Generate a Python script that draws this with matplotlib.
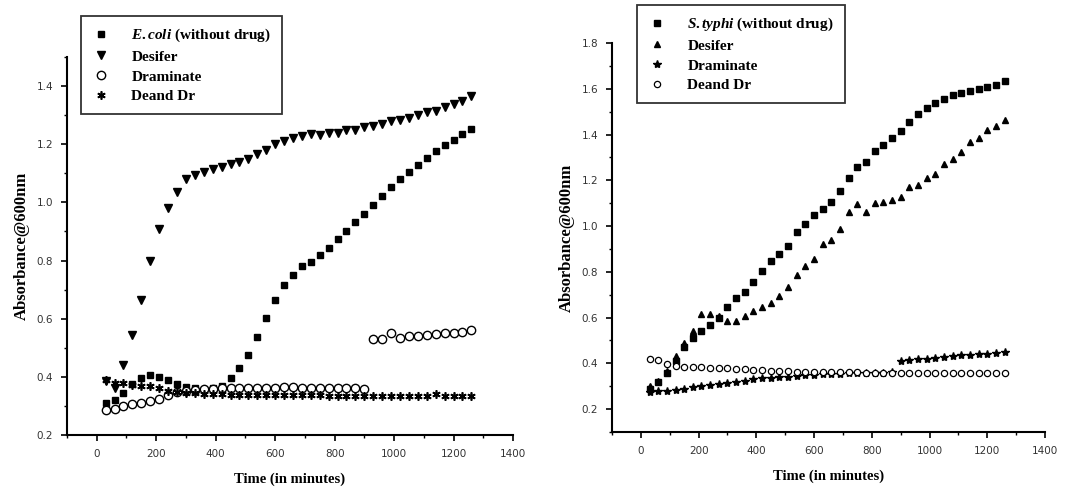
import matplotlib
matplotlib.use("Agg")
import matplotlib.pyplot as plt
from matplotlib.ticker import MultipleLocator

plt.rcParams['font.family'] = ['Liberation Serif', 'DejaVu Serif']
plt.rcParams['mathtext.fontset'] = 'custom'
plt.rcParams['mathtext.it'] = 'Liberation Serif:bold:italic'
plt.rcParams['mathtext.rm'] = 'Liberation Serif:bold'

# Time points (minutes)
time = [30, 60, 90, 120, 150, 180, 210, 240, 270, 300, 330, 360, 390, 420,
        450, 480, 510, 540, 570, 600, 630, 660, 690, 720, 750, 780, 810, 840,
        870, 900, 930, 960, 990, 1020, 1050, 1080, 1110, 1140, 1170, 1200, 1230, 1260]

# Left panel: E.coli
ecoli = [0.31, 0.32, 0.345, 0.375, 0.395, 0.405, 0.40, 0.39, 0.377, 0.366, 0.36, 0.355,
         0.36, 0.37, 0.395, 0.43, 0.476, 0.537, 0.604, 0.665, 0.715, 0.75, 0.78, 0.796,
         0.82, 0.843, 0.875, 0.902, 0.932, 0.961, 0.991, 1.022, 1.053, 1.079, 1.105,
         1.128, 1.154, 1.177, 1.196, 1.214, 1.236, 1.253]
ecoli_desifer = [0.385, 0.36, 0.44, 0.545, 0.665, 0.80, 0.91, 0.98, 1.036, 1.08, 1.093,
                 1.105, 1.116, 1.122, 1.131, 1.139, 1.15, 1.167, 1.18, 1.20, 1.21, 1.22,
                 1.23, 1.235, 1.233, 1.238, 1.24, 1.25, 1.25, 1.26, 1.262, 1.27, 1.28,
                 1.285, 1.29, 1.30, 1.31, 1.315, 1.327, 1.338, 1.35, 1.365]
ecoli_draminate = [0.285, 0.29, 0.30, 0.305, 0.31, 0.318, 0.325, 0.338, 0.348, 0.352,
                   0.355, 0.357, 0.358, 0.36, 0.36, 0.362, 0.362, 0.362, 0.362, 0.363,
                   0.364, 0.364, 0.363, 0.362, 0.362, 0.362, 0.362, 0.362, 0.362, 0.358,
                   0.53, 0.53, 0.55, 0.535, 0.54, 0.542, 0.545, 0.546, 0.55, 0.552, 0.555, 0.56]
ecoli_deand = [0.39, 0.38, 0.378, 0.372, 0.37, 0.368, 0.36, 0.352, 0.347, 0.345, 0.344,
               0.342, 0.34, 0.34, 0.338, 0.338, 0.338, 0.337, 0.337, 0.337, 0.337, 0.336,
               0.336, 0.336, 0.336, 0.335, 0.335, 0.335, 0.335, 0.335, 0.335, 0.334,
               0.334, 0.334, 0.334, 0.334, 0.334, 0.34, 0.334, 0.334, 0.334, 0.334]

# Right panel: S.typhi
styphi = [0.29, 0.32, 0.36, 0.41, 0.473, 0.51, 0.54, 0.569, 0.60, 0.646, 0.687, 0.714,
          0.754, 0.803, 0.847, 0.88, 0.912, 0.975, 1.01, 1.047, 1.076, 1.105, 1.153,
          1.212, 1.256, 1.28, 1.329, 1.353, 1.383, 1.416, 1.456, 1.49, 1.514, 1.536,
          1.554, 1.573, 1.583, 1.592, 1.598, 1.607, 1.617, 1.636]
styphi_desifer = [0.30, 0.325, 0.365, 0.43, 0.488, 0.54, 0.617, 0.617, 0.606, 0.587,
                  0.587, 0.606, 0.628, 0.646, 0.665, 0.695, 0.735, 0.785, 0.827, 0.856,
                  0.922, 0.94, 0.988, 1.061, 1.095, 1.061, 1.10, 1.105, 1.115, 1.127,
                  1.171, 1.178, 1.212, 1.226, 1.27, 1.291, 1.324, 1.368, 1.387, 1.419,
                  1.437, 1.463]
styphi_draminate = [0.275, 0.278, 0.28, 0.285, 0.29, 0.295, 0.30, 0.305, 0.31, 0.315,
                    0.32, 0.325, 0.33, 0.335, 0.338, 0.34, 0.342, 0.345, 0.347, 0.35,
                    0.352, 0.354, 0.355, 0.356, 0.357, 0.358, 0.36, 0.36, 0.362, 0.41,
                    0.415, 0.418, 0.42, 0.425, 0.428, 0.43, 0.435, 0.437, 0.44, 0.442,
                    0.445, 0.45]
styphi_deand = [0.42, 0.415, 0.398, 0.39, 0.385, 0.383, 0.382, 0.381, 0.38, 0.378, 0.376,
                0.374, 0.372, 0.37, 0.368, 0.366, 0.365, 0.364, 0.364, 0.363, 0.363,
                0.362, 0.362, 0.361, 0.361, 0.36, 0.36, 0.36, 0.36, 0.36, 0.359, 0.359,
                0.358, 0.358, 0.358, 0.357, 0.357, 0.357, 0.356, 0.356, 0.356, 0.356]

W, H = 1078, 487
fig = plt.figure(figsize=(W / 100, H / 100), dpi=100)
ax1 = fig.add_axes([67 / W, 1 - 435 / H, 446 / W, 378 / H])
ax2 = fig.add_axes([612 / W, 1 - 432 / H, 433 / W, 389 / H])

asterisk = (6, 2, 0)

ax1.plot(time, ecoli, ls='none', marker='s', ms=4.5, color='black',
         label=r'$\it{E.coli}$ (without drug)')
ax1.plot(time, ecoli_desifer, ls='none', marker='v', ms=6, color='black', label='Desifer')
ax1.plot(time, ecoli_draminate, ls='none', marker='o', ms=6, mfc='white', mec='black',
         mew=1.0, label='Draminate')
ax1.plot(time, ecoli_deand, ls='none', marker=asterisk, ms=6, color='black', mew=1.2,
         label='Deand Dr')

ax2.plot(time, styphi, ls='none', marker='s', ms=4, color='black',
         label=r'$\it{S.typhi}$ (without drug)')
ax2.plot(time, styphi_desifer, ls='none', marker='^', ms=5, color='black', label='Desifer')
ax2.plot(time, styphi_draminate, ls='none', marker='*', ms=6, color='black', label='Draminate')
ax2.plot(time, styphi_deand, ls='none', marker='o', ms=4.5, mfc='white', mec='black',
         mew=0.9, label='Deand Dr')

for ax, ylim in ((ax1, (0.2, 1.5)), (ax2, (0.1, 1.8))):
    ax.set_xlim(-100, 1400)
    ax.set_ylim(*ylim)
    ax.xaxis.set_major_locator(MultipleLocator(200))
    ax.xaxis.set_minor_locator(MultipleLocator(100))
    ax.yaxis.set_major_locator(MultipleLocator(0.2))
    ax.yaxis.set_minor_locator(MultipleLocator(0.1))
    for s in ('top', 'right'):
        ax.spines[s].set_visible(False)
    for s in ('left', 'bottom'):
        ax.spines[s].set_linewidth(1.5)
    ax.tick_params(which='major', direction='out', length=4, width=1.2,
                   labelsize=7.5, pad=6)
    ax.tick_params(which='minor', direction='out', length=2.5, width=1.0)
    for lab in ax.get_xticklabels() + ax.get_yticklabels():
        lab.set_fontfamily('DejaVu Sans')
        lab.set_color('#333333')
    ax.set_xlabel('Time (in minutes)', fontsize=10.5, fontweight='bold', labelpad=10)
    ax.set_ylabel('Absorbance@600nm', fontsize=12, fontweight='bold', labelpad=5)

leg_kw = dict(loc='upper left', bbox_transform=fig.transFigure, frameon=True,
              fancybox=False, edgecolor='black', prop={'weight': 'bold', 'size': 11},
              labelspacing=0.4, handletextpad=1.4, borderpad=0.7, handlelength=1.2,
              borderaxespad=0)
l1 = ax1.legend(bbox_to_anchor=(81 / W, 1 - 16 / H), **leg_kw)
l2 = ax2.legend(bbox_to_anchor=(637 / W, 1 - 5 / H), **leg_kw)
for leg in (l1, l2):
    leg.get_frame().set_linewidth(1.3)

fig.savefig('out.png', dpi=100)
